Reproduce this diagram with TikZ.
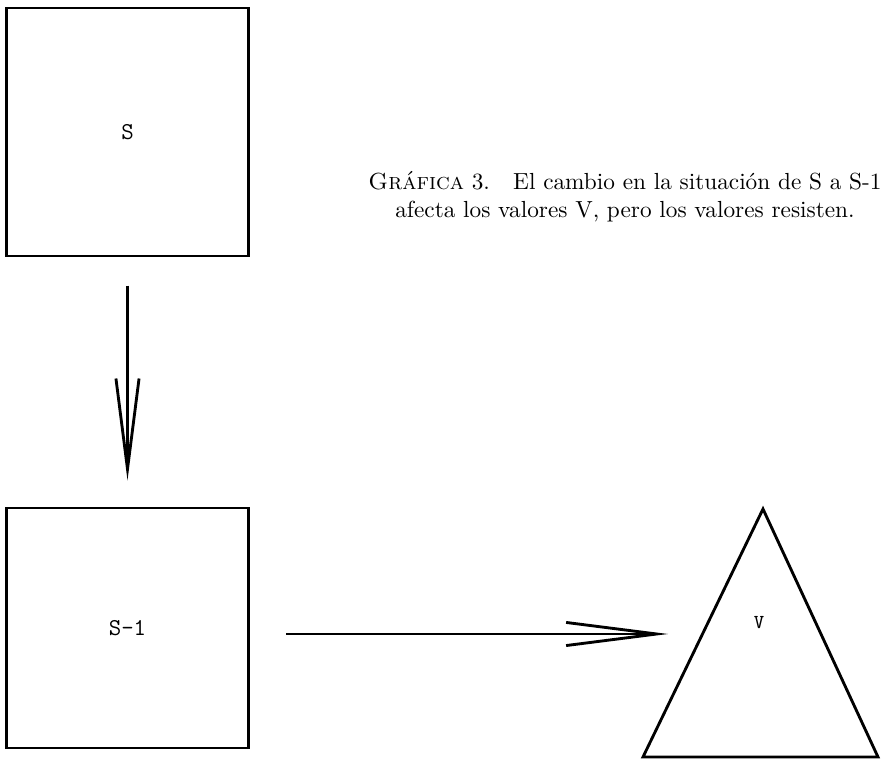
\documentclass[tikz,border=0pt]{standalone}
\usepackage{tikz}
\usetikzlibrary{arrows.meta}
\begin{document}
\begin{tikzpicture}[x=0.016cm,y=-0.016cm,line width=1.3pt,
caja/.style={draw,minimum width=3.86cm,font=\fontsize{11}{13}\selectfont\ttfamily},
flecha/.style={-{Straight Barb[length=1.45cm,width=0.37cm]}}]
\useasboundingbox (0,0) rectangle (885,760);
\node[caja,minimum height=3.97cm] (s) at (127.5,132) {S};
\node[caja,minimum height=3.84cm] (s1) at (127.5,628) {S-1};
\coordinate (a) at (643,757);
\coordinate (b) at (763,509);
\coordinate (c) at (878,757);
\draw (a)--(b)--(c)--cycle;
\node[font=\small\ttfamily] (v) at (759,623) {V};
\coordinate (punta) at (668,634);
\draw[flecha,shorten <=0.45cm,shorten >=0.42cm] (s) -- (s1);
\draw[flecha,shorten <=0.59cm] (s1.east |- punta) -- (punta);
\node[align=center,font=\fontsize{10.6}{12.8}\selectfont] (pie) at (625,197) {\textsc{Gráfica} 3.\quad El cambio en la situación de S a S-1\\
afecta los valores V, pero los valores resisten.};
\end{tikzpicture}
\end{document}
